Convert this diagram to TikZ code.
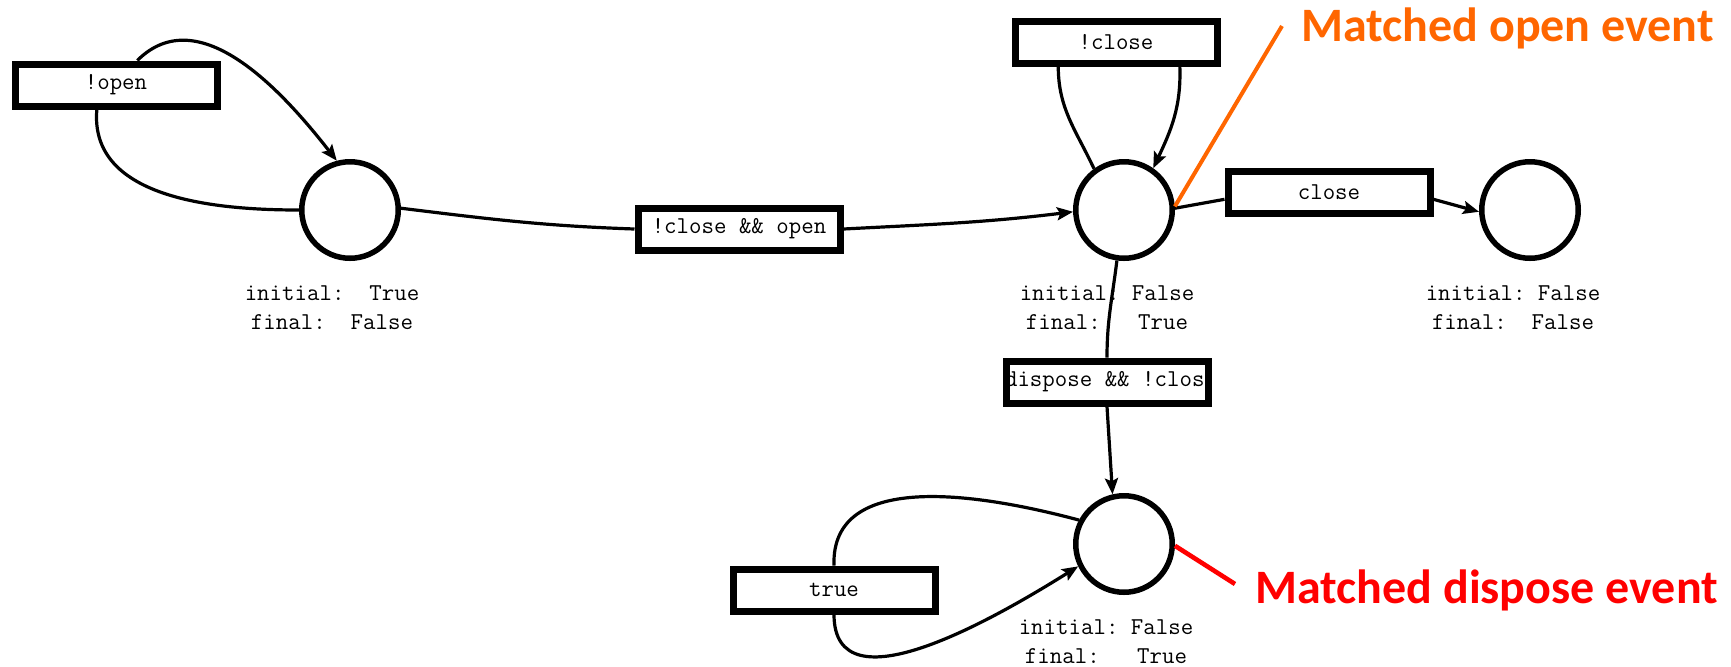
\documentclass[tikz,border=0pt]{standalone}
\usepackage{fontspec}
\usetikzlibrary{arrows.meta}
\newfontfamily\notef{Carlito}
\definecolor{noteorange}{RGB}{255,102,0}
\definecolor{notered}{RGB}{255,0,0}

\begin{document}
\begin{tikzpicture}[x=0.5pt,y=0.5pt,
  state/.style={circle,draw,line width=2.75pt,minimum size=48.25pt,inner sep=0pt},
  guard/.style={rectangle,draw,fill=white,line width=3.5pt,minimum width=101pt,
    minimum height=21pt,inner sep=0pt,font=\ttfamily\fontsize{12.1}{13}\selectfont},
  info/.style={align=center,inner sep=0pt,font=\ttfamily\fontsize{12.1}{14.5}\selectfont},
  edge/.style={line width=1.6pt},
  arr/.style={edge,-{Stealth[length=8pt,width=6.5pt,inset=1.5pt]}},
  note/.style={inner sep=0pt,font=\notef\bfseries\fontsize{24}{28}\selectfont},
]
\useasboundingbox (0,0) rectangle (1731,-666);

% states
\node[state] (c1) at (350,-210) {};
\node[state] (c2) at (1124,-210) {};
\node[state] (c3) at (1530,-210) {};
\node[state] (c4) at (1124,-544) {};

% state flags
\node[info] (l1) at (332,-308) {initial:\ \ True\\final:\ \ False};
\node[info] (l2) at (1107,-308) {initial:\ False\\final:\ \ \ True};
\node[info] (l3) at (1513,-308) {initial:\ False\\final:\ \ False};
\node[info] (l4) at (1106,-642) {initial:\ False\\final:\ \ \ True};

% transition guards
\node[guard] (op)  at (116,-85)   {!open};
\node[guard] (ab)  at (739,-229)  {!close \&\& open};
\node[guard] (nc)  at (1116,-42)  {!close};
\node[guard] (cl)  at (1329,-192) {close};
\node[guard, path picture={\node[font=\ttfamily\fontsize{12.1}{13}\selectfont] (dsptext)
    at ([xshift=2pt]path picture bounding box.center) {dispose \&\& !close};}] (dsp) at (1107,-382) {};
\node[guard] (tr)  at (834,-590)  {true};

% self loop on the initial state
\draw[edge] (c1.180) to[out=180,in=-95] (op.232);
\draw[arr] (op.49) to[out=45,in=128] (c1.105);

% initial -> open
\draw[edge] (c1.2) to[out=-7,in=178] (ab.west);
\draw[arr] (ab.east) to[out=3,in=187] (c2.182);

% self loop on the open state
\draw[edge] (c2.126) to[out=115,in=-90] (nc.203);
\draw[arr] (nc.339) to[out=-88,in=65] (c2.55);

% open -> closed
\draw[edge] (c2.2) -- (cl.184);
\draw[arr] (cl.-4) -- (c3.182);

% open -> disposed
\draw[edge] (c2.262) to[out=-97,in=90] (dsp.north);
\draw[arr] (dsp.south) -- (c4.103);

% self loop on the disposed state
\draw[edge] (c4.152) to[out=165,in=92] (tr.north);
\draw[arr] (tr.south) to[out=-90,in=212] (c4.206);

% annotations
\node[note, text=noteorange, anchor=base west] (mo) at (1301,-41) {Matched open event};
\coordinate (ot) at (1282,-26);
\draw[noteorange, line width=2pt] (ot) -- (c2.4);

\node[note, text=notered, anchor=base west] (md) at (1255,-603) {Matched dispose event};
\coordinate (rt) at (1235,-584);
\draw[notered, line width=2.3pt] (c4.-2) -- (rt);
\end{tikzpicture}
\end{document}
